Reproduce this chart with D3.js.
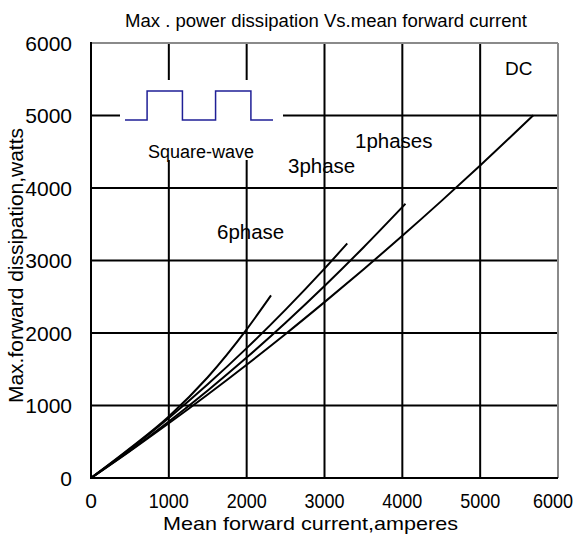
<!DOCTYPE html>
<html>
<head>
<meta charset="utf-8">
<script src="https://cdn.jsdelivr.net/npm/d3@7"></script>
<style>
html,body{margin:0;padding:0;background:#fff;}
svg text{font-family:"Liberation Sans",Arial,sans-serif;fill:#000;}
</style>
</head>
<body>
<svg id="chart" width="579" height="538"></svg>
<script>
// ---- data ----
const xTicks = [0, 1000, 2000, 3000, 4000, 5000, 6000];
const yTicks = [0, 1000, 2000, 3000, 4000, 5000, 6000];
const seriesNames = ["6phase", "3phase", "1phases", "DC"];
const sixPhase = [[0,0],[500,410],[1000,850],[1500,1390],[2000,2050],[2313,2518]];
const threePhase = [[0,0],[500,398],[1000,829],[1500,1293],[2000,1791],[2500,2323],[3000,2888],[3293,3235]];
const onePhase = [[0,0],[500,377],[1000,780],[1500,1208],[2000,1662],[2500,2142],[3000,2648],[3500,3180],[4040,3782]];
const dcCurve = [[0,0],[500,371],[1000,755],[1500,1152],[2000,1563],[2500,1987],[3000,2426],[3500,2877],[4000,3341],[4500,3819],[5000,4310],[5683,5003]];
const squareWave = [[0,0],[0.5,0],[0.5,1],[1.3,1],[1.3,0],[2.05,0],[2.05,1],[2.85,1],[2.85,0],[3.35,0]];

const svg = d3.select("#chart");
const L = 91, R = 558, T = 43, B = 478;
const x = d3.scaleLinear().domain([0, 6000]).range([L, R]);
const y = d3.scaleLinear().domain([0, 6000]).range([B, T]);

// grid
const g = svg.append("g");
g.selectAll(".vg").data(xTicks.slice(1, -1)).enter().append("line")
  .attr("x1", d => x(d)).attr("x2", d => x(d)).attr("y1", T).attr("y2", B)
  .attr("stroke", "#000").attr("stroke-width", 2);
g.selectAll(".hg").data(yTicks.slice(1, -1)).enter().append("line")
  .attr("y1", d => y(d)).attr("y2", d => y(d)).attr("x1", L).attr("x2", R)
  .attr("stroke", "#000").attr("stroke-width", 2);
// frame: top/right grey
svg.append("line").attr("x1", L).attr("x2", R).attr("y1", T).attr("y2", T).attr("stroke", "#8a8a8a").attr("stroke-width", 2);
svg.append("line").attr("x1", R).attr("x2", R).attr("y1", T).attr("y2", B).attr("stroke", "#8a8a8a").attr("stroke-width", 2);
svg.append("line").attr("x1", L).attr("x2", L).attr("y1", T - 1).attr("y2", B + 1).attr("stroke", "#000").attr("stroke-width", 2);
svg.append("line").attr("x1", L - 1).attr("x2", R).attr("y1", B).attr("y2", B).attr("stroke", "#000").attr("stroke-width", 2);

// inset white box
svg.append("rect").attr("x", 120).attr("y", 80).attr("width", 163).attr("height", 80).attr("fill", "#fff");

// tick labels
svg.selectAll(".yl").data(yTicks).enter().append("text")
  .attr("x", 72).attr("y", d => y(d) + 7.5).attr("text-anchor", "end")
  .attr("font-size", 21).text(d => d);
svg.selectAll(".xl").data(xTicks).enter().append("text")
  .attr("x", d => d === 6000 ? x(d) - 5 : x(d)).attr("y", 508).attr("text-anchor", "middle")
  .attr("font-size", 21)
  .attr("textLength", d => d === 0 ? null : 40).attr("lengthAdjust", "spacingAndGlyphs")
  .text(d => d);

// curves
const line = d3.line().x(d => x(d[0])).y(d => y(d[1])).curve(d3.curveMonotoneX);
[sixPhase, threePhase, onePhase, dcCurve].forEach(s => {
  svg.append("path").attr("d", line(s)).attr("fill", "none")
    .attr("stroke", "#000").attr("stroke-width", 2);
});

// square wave inset
const sx = d3.scaleLinear().domain([0, 3.35]).range([125, 273]);
const sy = d3.scaleLinear().domain([0, 1]).range([120, 91]);
svg.append("path").attr("d", d3.line().x(d => sx(d[0])).y(d => sy(d[1]))(squareWave))
  .attr("fill", "none").attr("stroke", "#1f1f96").attr("stroke-width", 1.5);
svg.append("text").attr("x", 148).attr("y", 158).attr("font-size", 18).text("Square-wave");

// series labels
const labelPos = [[217, 239], [288, 173], [355, 148], [505, 75]];
svg.selectAll(".sl").data(seriesNames).enter().append("text")
  .attr("x", (d, i) => labelPos[i][0]).attr("y", (d, i) => labelPos[i][1])
  .attr("font-size", (d, i) => i === 3 ? 19 : 20.5).text(d => d);

// titles
svg.append("text").attr("x", 326).attr("y", 27).attr("text-anchor", "middle")
  .attr("font-size", 17.5).attr("textLength", 402).attr("lengthAdjust", "spacingAndGlyphs")
  .text("Max . power dissipation Vs.mean forward current");
svg.append("text").attr("x", 310.5).attr("y", 530).attr("text-anchor", "middle")
  .attr("font-size", 19).attr("textLength", 295).attr("lengthAdjust", "spacingAndGlyphs")
  .text("Mean forward current,amperes");
svg.append("text").attr("transform", "translate(23,265.5) rotate(-90)").attr("text-anchor", "middle")
  .attr("font-size", 19.5).attr("textLength", 275).attr("lengthAdjust", "spacingAndGlyphs")
  .text("Max.forward dissipation,watts");
</script>
</body>
</html>
